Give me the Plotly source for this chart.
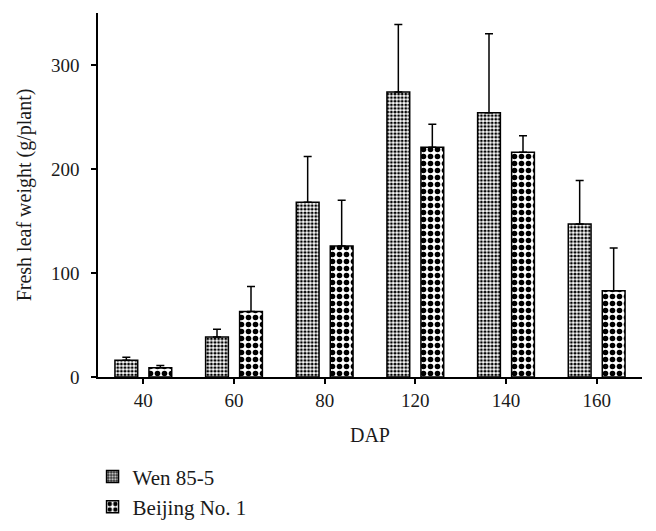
import plotly.graph_objects as go

categories = ["40", "60", "80", "120", "140", "160"]
wen_values = [16, 38.5, 168, 274, 254, 147]
wen_err = [3, 7.5, 44, 65, 76, 42]
beijing_values = [9, 63, 126, 221, 216, 83]
beijing_err = [2, 24, 44, 22, 16, 41]
y_ticks = [0, 100, 200, 300]

FONT = "Liberation Serif"

fig = go.Figure()
fig.add_trace(go.Bar(
    name="Wen 85-5", x=categories, y=wen_values,
    marker=dict(color="white", line=dict(color="black", width=1.5),
                pattern=dict(shape=".", size=3.6, solidity=0.5, fgopacity=1,
                             fgcolor="black", bgcolor="white", fillmode="overlay")),
    error_y=dict(type="data", symmetric=False, array=wen_err,
                 arrayminus=[0] * len(wen_err), color="black", thickness=1.5, width=4),
))
fig.add_trace(go.Bar(
    name="Beijing No. 1", x=categories, y=beijing_values,
    marker=dict(color="white", line=dict(color="black", width=1.5),
                pattern=dict(shape=".", size=7, solidity=0.5, fgopacity=1,
                             fgcolor="black", bgcolor="white", fillmode="overlay")),
    error_y=dict(type="data", symmetric=False, array=beijing_err,
                 arrayminus=[0] * len(beijing_err), color="black", thickness=1.5, width=4),
))

fig.update_layout(
    width=656, height=531,
    margin=dict(l=98, r=14, t=13, b=154, autoexpand=False),
    paper_bgcolor="white", plot_bgcolor="white",
    font=dict(family=FONT, size=19, color="#1a1a1a"),
    barmode="group", bargap=0.25, bargroupgap=0.33,
    showlegend=True,
    legend=dict(x=-0.01, y=-0.218, xanchor="left", yanchor="top",
                orientation="v", bgcolor="rgba(0,0,0,0)",
                font=dict(family=FONT, size=21, color="#1a1a1a"),
                tracegroupgap=0),
)
fig.update_xaxes(
    type="category", showline=True, linecolor="black", linewidth=1.5,
    ticks="outside", ticklen=5, tickwidth=1.5, tickcolor="black",
    showgrid=False, zeroline=False, automargin=False,
    title=dict(text="DAP", font=dict(family=FONT, size=20), standoff=18),
    tickfont=dict(family=FONT, size=19),
)
fig.update_yaxes(
    range=[0, 350], tickvals=y_ticks, showline=True, linecolor="black", linewidth=1.5,
    ticks="outside", ticklen=5, tickwidth=1.5, tickcolor="black",
    showgrid=False, zeroline=False, automargin=False,
    ticklabelstandoff=8,
    title=dict(text="Fresh leaf weight (g/plant)", font=dict(family=FONT, size=20), standoff=14),
    tickfont=dict(family=FONT, size=19),
)

fig.write_html("out.html", config={"displayModeBar": False},
               post_script="document.body.style.margin='0px';document.body.style.overflow='hidden';")
